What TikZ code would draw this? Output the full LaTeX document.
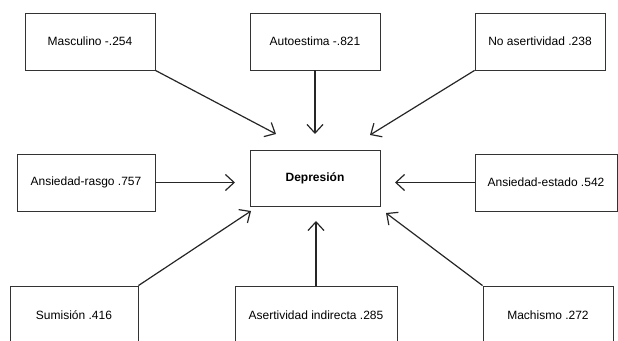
\documentclass[tikz,border=0pt]{standalone}
\usepackage{fontspec}
\setmainfont{Liberation Sans}
\usepackage{tikz}
\usetikzlibrary{arrows.meta, positioning}

\begin{document}
\begin{tikzpicture}[
    x=0.75pt, y=-0.75pt,
    box/.style={rectangle, draw=black!80, line width=0.6pt, minimum width=97.5pt, minimum height=42.75pt, align=center, font=\fontsize{9}{11}\selectfont},
    arrow/.style={-{Straight Barb[length=6.5pt, width=12pt]}, line width=0.9pt, black!85}
]
    \clip (0,0) rectangle (618,341);
    % Top row
    \node[box] (masc) at (90, 41.5) {Masculino -.254};
    \node[box] (auto) at (315, 41.5) {Autoestima -.821};
    \node[box] (noas) at (540, 41.5) {No asertividad .238};
    % Middle row
    \node[box, minimum width=103.5pt] (rasgo) at (86, 182.5) {Ansiedad-rasgo .757};
    \node[box, minimum height=42pt, font=\fontsize{9}{11}\selectfont\bfseries] (dep) at (315, 178) {Depresión};
    \node[box, minimum width=106.5pt] (estado) at (546, 182.5) {Ansiedad-estado .542};
    % Bottom row
    \node[box, minimum width=96pt, minimum height=43.5pt] (sumis) at (74, 315) {Sumisión .416};
    \node[box, minimum width=121.5pt, minimum height=43.5pt] (asert) at (316, 315) {Asertividad indirecta .285};
    \node[box, minimum height=43.5pt] (mach) at (548, 315) {Machismo .272};
    % Arrow ends near Depresión
    \coordinate (tmasc) at (276, 134);
    \coordinate (tauto) at (315, 134);
    \coordinate (tnoas) at (370, 135);
    \coordinate (trasgo) at (235, 182.5);
    \coordinate (testado) at (395, 182.5);
    \coordinate (tsumis) at (251, 211);
    \coordinate (tasert) at (316, 221);
    \coordinate (tmach) at (386, 213);
    \draw[arrow] (masc.south east) -- (tmasc);
    \draw[arrow] (auto.south) -- (tauto);
    \draw[arrow] (noas.south west) -- (tnoas);
    \draw[arrow] (rasgo.east) -- (trasgo);
    \draw[arrow] (estado.west) -- (testado);
    \draw[arrow] (sumis.north east) -- (tsumis);
    \draw[arrow] (asert.north) -- (tasert);
    \draw[arrow] (mach.north west) -- (tmach);
\end{tikzpicture}
\end{document}
